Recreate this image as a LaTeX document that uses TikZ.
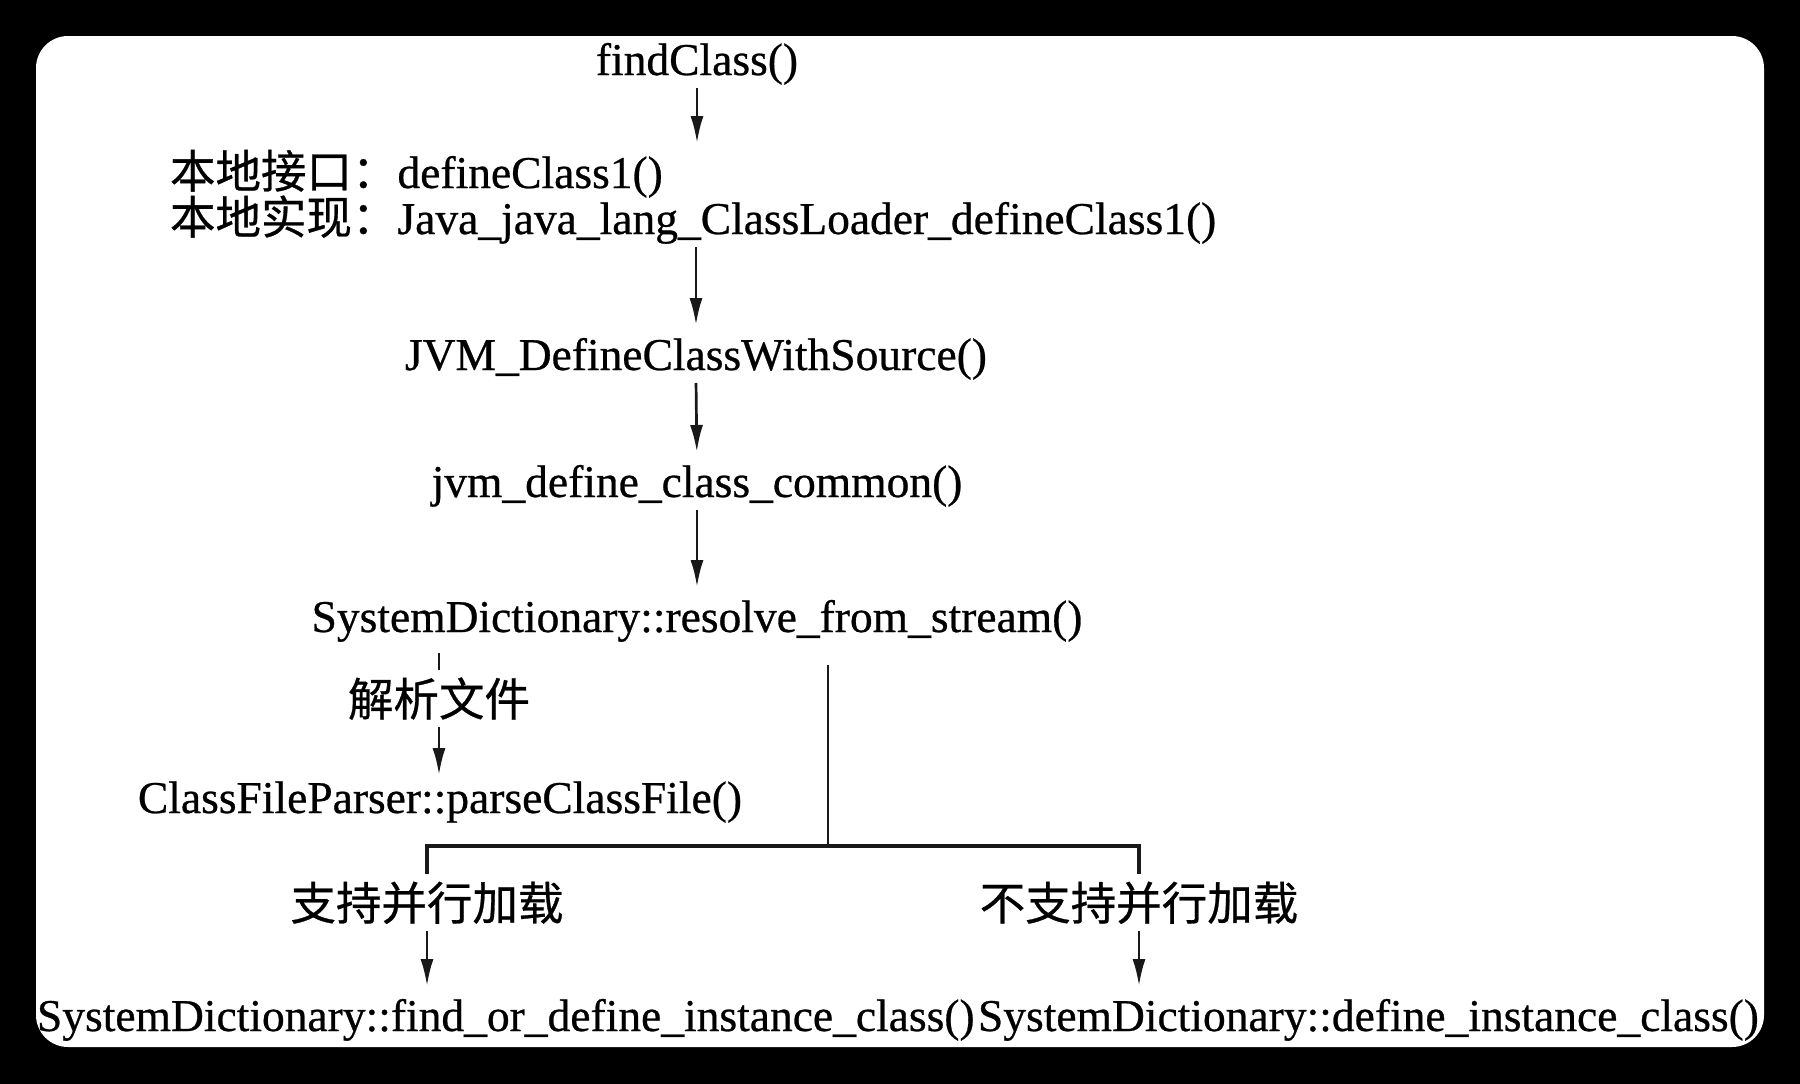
\documentclass[tikz,border=0pt]{standalone}
\usepackage{fontspec}
\setmainfont[FakeBold=0.6]{Liberation Serif}
\newfontfamily\cjk[FakeBold=0.6]{Noto Sans CJK SC}
\usetikzlibrary{arrows.meta}
\begin{document}
\begin{tikzpicture}[x=1pt,y=-1pt,
  txt/.style={inner sep=0pt,outer sep=0pt,text height=31pt,text depth=10pt,anchor=base,font=\fontsize{45.5}{46}\selectfont},
  cjklab/.style={inner sep=0pt,outer sep=0pt,text height=46pt,text depth=11pt,anchor=base,font=\fontsize{45.5}{46}\selectfont\cjk},
  ln/.style={line width=2.7pt,black!90},
  arr/.style={ln,-{Latex[length=27pt,width=13pt]},shorten <=3pt,shorten >=14pt}]
\useasboundingbox (0,0) rectangle (1800,1084);
\fill[black] (0,0) rectangle (1800,1084);
\fill[white,rounded corners=32pt] (36,36) rectangle (1764,1047);
\begin{scope}
\clip[rounded corners=32pt] (36,36) rectangle (1764,1047);
% nodes
\node[txt] (find) at (697,75) {findClass()};
\node[txt,anchor=base west] (iface) at (170,188) {{\cjk 本地接口：}defineClass1()};
\node[txt,anchor=base west] (impl) at (170,234) {{\cjk 本地实现：}Java\_java\_lang\_ClassLoader\_defineClass1()};
\node[txt] (jvmsrc) at (696,370) {JVM\_DefineClassWithSource()};
\node[txt] (jvmcommon) at (697,497) {jvm\_define\_class\_common()};
\node[txt] (resolve) at (697,632) {SystemDictionary::resolve\_from\_stream()};
\node[cjklab] (parse) at (439,716) {解析文件};
\node[txt] (parser) at (440,813) {ClassFileParser::parseClassFile()};
\node[cjklab] (par) at (427,920) {支持并行加载};
\node[cjklab] (nopar) at (1139,920) {不支持并行加载};
\node[txt,anchor=base west] (findordef) at (37,1031) {SystemDictionary::find\_or\_define\_instance\_class()};
\node[txt,anchor=base west] (definst) at (978,1031) {SystemDictionary::define\_instance\_class()};
\coordinate (split) at (828,846);
% connectors
\draw[arr] (find.south) -- (find.south |- iface.north);
\draw[arr] (jvmsrc.north |- impl.south) -- (jvmsrc.north);
\draw[arr] (jvmsrc.south) -- (jvmcommon.north);
\draw[arr] (jvmcommon.south) -- (resolve.north);
\draw[ln,shorten <=11pt] (parse.north |- resolve.south) -- (parse.north);
\draw[arr,shorten <=0pt,shorten >=7pt] (parse.south) -- (parse.south |- parser.north);
\draw[ln,shorten <=23pt] (split |- resolve.south) -- (split);
\draw[ln,line width=3.2pt] (par.north) -- (par.north |- split) -- (nopar.north |- split) -- (nopar.north);
\draw[arr,shorten <=0pt] (par.south) -- (par.south |- findordef.north);
\draw[arr,shorten <=0pt] (nopar.south) -- (nopar.south |- definst.north);
\end{scope}
\end{tikzpicture}
\end{document}
